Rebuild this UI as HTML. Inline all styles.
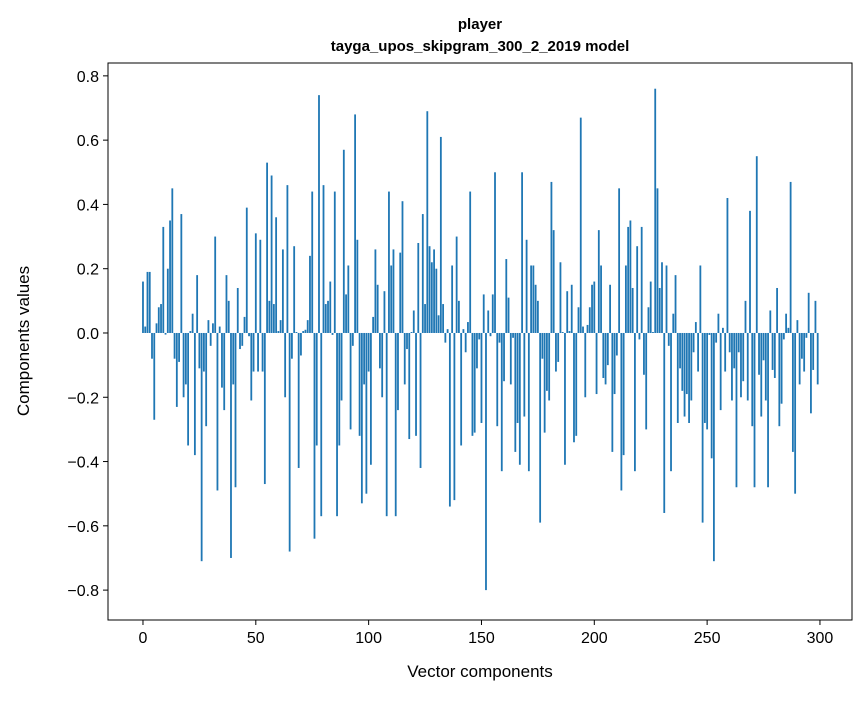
<!DOCTYPE html>
<html><head><meta charset="utf-8"><style>
body{margin:0;background:#fff;font-family:"Liberation Sans","DejaVu Sans",sans-serif}
</style></head><body>
<svg id="chart" width="867" height="696" xmlns="http://www.w3.org/2000/svg" font-family="Liberation Sans, DejaVu Sans, sans-serif">
<rect width="867" height="696" fill="#fff"/>
<text x="480" y="29" text-anchor="middle" font-size="15" font-weight="bold">player</text>
<text x="480" y="51" text-anchor="middle" font-size="15" font-weight="bold">tayga_upos_skipgram_300_2_2019 model</text>
<g id="bars"></g>
<g id="axes"></g>
<rect x="108" y="63" width="744" height="557" fill="none" stroke="#000" stroke-width="1"/>
<text x="480" y="677" text-anchor="middle" font-size="17">Vector components</text>
<text transform="translate(29,341) rotate(-90)" text-anchor="middle" font-size="17">Components values</text>
</svg>
<script>
const values = [
0.16,0.02,0.19,0.19,-0.08,-0.27,0.03,0.08,0.09,0.33,-0.005,0.2,0.35,0.45,-0.08,-0.23,-0.09,0.37,-0.2,-0.16,
-0.35,0.006,0.06,-0.38,0.18,-0.11,-0.71,-0.12,-0.29,0.04,-0.04,0.03,0.30,-0.49,0.02,-0.17,-0.24,0.18,0.10,-0.70,
-0.16,-0.48,0.14,-0.05,-0.04,0.05,0.39,-0.01,-0.21,-0.12,0.31,-0.12,0.29,-0.12,-0.47,0.53,0.10,0.49,0.09,0.36,
0.006,0.04,0.26,-0.20,0.46,-0.68,-0.08,0.27,0.003,-0.42,-0.07,0.006,0.01,0.04,0.24,0.44,-0.64,-0.35,0.74,-0.57,
0.46,0.09,0.10,0.16,-0.006,0.44,-0.57,-0.35,-0.21,0.57,0.12,0.21,-0.30,-0.04,0.68,0.29,-0.32,-0.53,-0.16,-0.50,
-0.12,-0.41,0.05,0.26,0.15,-0.11,-0.20,0.13,-0.57,0.44,0.21,0.26,-0.57,-0.24,0.25,0.41,-0.16,-0.05,-0.33,0.003,
0.07,-0.32,0.28,-0.42,0.37,0.09,0.69,0.27,0.22,0.26,0.20,0.055,0.61,0.09,-0.03,0.012,-0.54,0.21,-0.52,0.30,
0.10,-0.35,0.012,-0.06,0.034,0.44,-0.32,-0.31,-0.11,-0.02,-0.28,0.12,-0.80,0.07,-0.01,0.12,0.50,-0.29,-0.03,-0.43,
-0.15,0.23,0.11,-0.16,-0.015,-0.37,-0.28,-0.41,0.50,-0.26,0.29,-0.43,0.21,0.21,0.15,0.10,-0.59,-0.08,-0.31,-0.18,
-0.21,0.47,0.32,-0.12,-0.09,0.22,0.003,-0.41,0.13,0.006,0.15,-0.34,-0.32,0.08,0.67,0.02,-0.20,0.025,0.08,0.15,
0.16,-0.19,0.32,0.21,-0.14,-0.16,-0.10,0.15,-0.37,-0.19,-0.07,0.45,-0.49,-0.38,0.21,0.33,0.35,0.14,-0.43,0.27,
-0.02,0.33,-0.13,-0.30,0.08,0.16,0.003,0.76,0.45,0.14,0.22,-0.56,0.21,-0.04,-0.43,0.06,0.18,-0.28,-0.11,-0.18,
-0.26,-0.19,-0.28,-0.21,-0.06,0.034,-0.12,0.21,-0.59,-0.28,-0.30,-0.006,-0.39,-0.71,-0.03,0.06,-0.24,0.016,-0.12,0.42,
-0.06,-0.21,-0.11,-0.48,-0.06,-0.20,-0.15,0.10,-0.21,0.38,-0.29,-0.48,0.55,-0.13,-0.26,-0.085,-0.21,-0.48,0.07,-0.115,
-0.14,0.14,-0.29,-0.22,-0.02,0.06,0.016,0.47,-0.37,-0.50,0.04,-0.16,-0.08,-0.12,-0.015,0.125,-0.25,-0.115,0.10,-0.16
];
const yTicks = [0.8,0.6,0.4,0.2,0,-0.2,-0.4,-0.6,-0.8];
const xTicks = [0,50,100,150,200,250,300];
const NS='http://www.w3.org/2000/svg';
const X0=108,X1=852,Y0=63,Y1=620;
const xmin=-15.5,xmax=314.2,ymin=-0.893,ymax=0.84;
function xs(v){return X0+(v-xmin)/(xmax-xmin)*(X1-X0);}
function ys(v){return Y1-(v-ymin)/(ymax-ymin)*(Y1-Y0);}
function mk(t,a){const e=document.createElementNS(NS,t);for(const k in a)e.setAttribute(k,a[k]);return e;}
const bars=document.getElementById('bars');
values.forEach((v,i)=>{
  const xl=xs(i-0.4),xr=xs(i+0.4),y=ys(Math.max(v,0)),h=Math.abs(ys(v)-ys(0));
  const r=mk('rect',{x:xl,y:y,width:xr-xl,height:Math.max(h,0.01),fill:'#1f77b4'});
  
  
  bars.appendChild(r);
});
const axes=document.getElementById('axes');
yTicks.forEach(t=>{
  const y=ys(t);
  const l=mk('line',{x1:X0-5,x2:X0,y1:y,y2:y,stroke:'#000'});
  
  
  axes.appendChild(l);
  const tx=mk('text',{x:X0-9,y:y+6,'text-anchor':'end','font-size':'16'});
  tx.textContent=(t<0?'\u2212':'')+Math.abs(t).toFixed(1);
  
  
  axes.appendChild(tx);
});
xTicks.forEach(t=>{
  const x=xs(t);
  const l=mk('line',{x1:x,x2:x,y1:Y1,y2:Y1+5,stroke:'#000'});
  
  
  axes.appendChild(l);
  const tx=mk('text',{x:x,y:Y1+23,'text-anchor':'middle','font-size':'16'});
  tx.textContent=String(t);
  
  
  axes.appendChild(tx);
});
</script>
</body></html>
